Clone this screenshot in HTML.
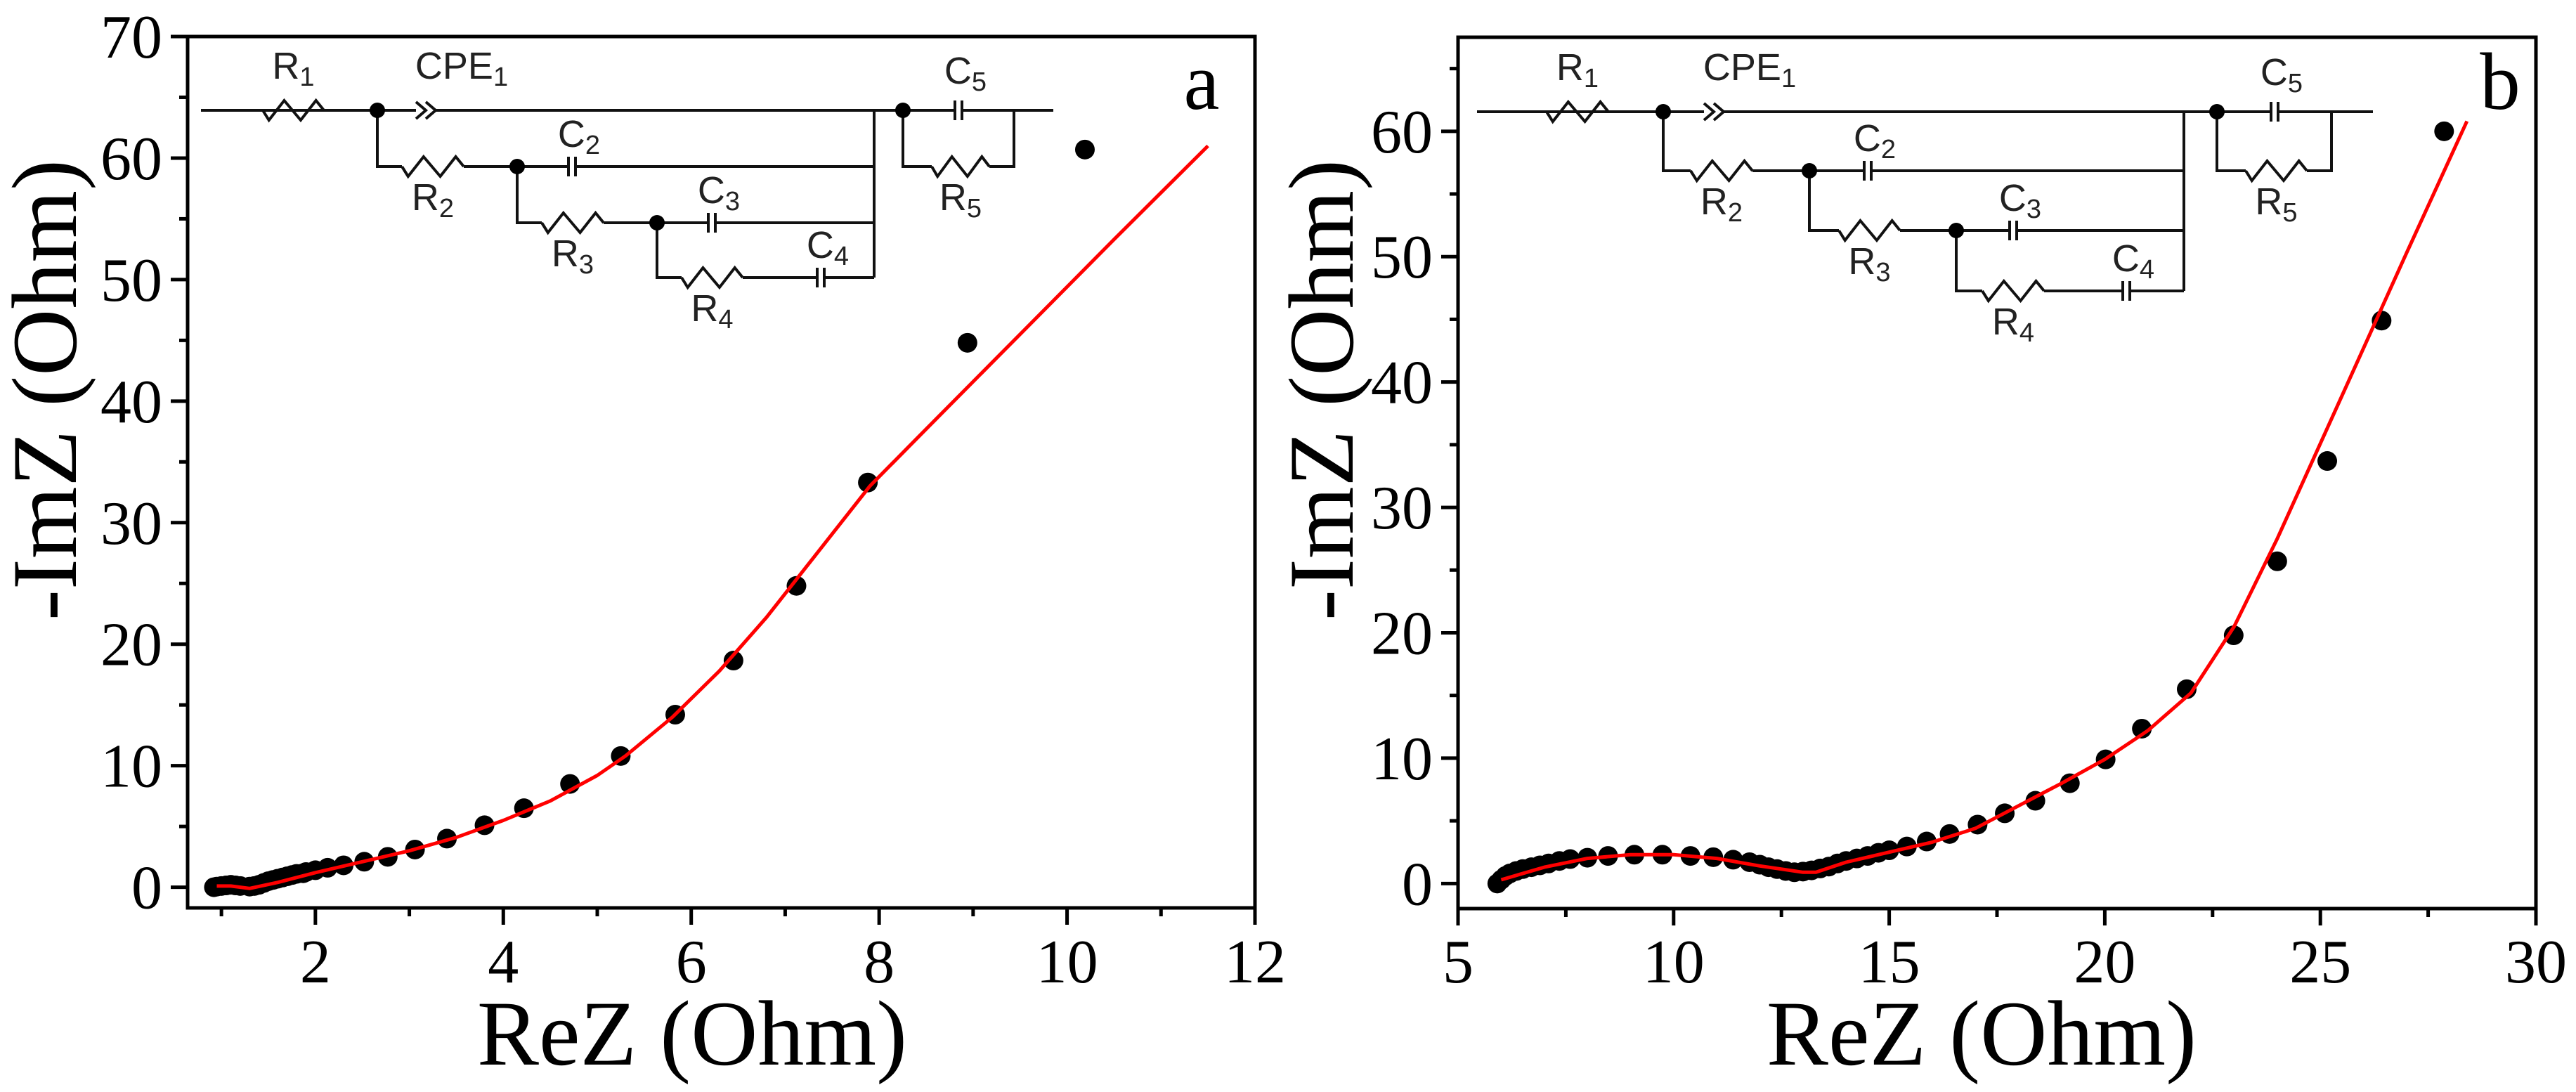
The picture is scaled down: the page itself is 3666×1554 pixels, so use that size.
<!DOCTYPE html>
<html><head><meta charset="utf-8"><style>
html,body{margin:0;padding:0;background:#fff;}
svg{display:block;}
text{font-family:"Liberation Serif",serif;fill:#000;}
.ct{font-family:"Liberation Sans",sans-serif;font-size:54px;fill:#222;}
.sub{font-size:38px;}
</style></head><body>
<svg id="chart" width="3666" height="1554" viewBox="0 0 3666 1554" xmlns="http://www.w3.org/2000/svg">
<rect width="3666" height="1554" fill="#fff"/>
</svg>
<script>
// Panel a data
const aPtsX=[0.92,0.95,1.0,1.05,1.1,1.15,1.2,1.3,1.35,1.4,1.45,1.5,1.55,1.6,1.65,1.7,1.75,1.8,1.87,1.9,2.0,2.13,2.3,2.52,2.77,3.06,3.4,3.8,4.22,4.71,5.25,5.83,6.45,7.12,7.88,8.94,10.19];
const aPtsY=[0.0,0.05,0.1,0.15,0.2,0.15,0.1,0.05,0.1,0.2,0.35,0.5,0.6,0.7,0.8,0.9,1.0,1.1,1.15,1.25,1.4,1.6,1.8,2.1,2.5,3.1,4.0,5.1,6.5,8.5,10.8,14.2,18.65,24.8,33.3,44.8,60.7];
const aFitX=[0.95,1.1,1.3,1.6,2,2.5,3,3.5,4,4.5,5,5.3,5.8,6.3,6.8,7.3,7.9,8.5,9.5,10.5,11.5];
const aFitY=[0.1,0.1,-0.1,0.4,1.2,2.1,3.0,4.1,5.5,7.1,9.2,10.8,14.0,17.8,22.2,27.1,33.0,37.7,45.5,53.3,61.0];
const aXTicks=[2,4,6,8,10,12];
const aYTicks=[0,10,20,30,40,50,60,70];
// Panel b data
const bPtsX=[5.91,6.0,6.1,6.2,6.35,6.5,6.7,6.9,7.1,7.35,7.6,8.0,8.48,9.09,9.74,10.39,10.92,11.38,11.76,12.0,12.2,12.4,12.6,12.8,13.0,13.2,13.4,13.6,13.8,14.0,14.25,14.5,14.75,15.0,15.41,15.87,16.4,17.05,17.68,18.39,19.19,20.02,20.86,21.9,22.99,24.0,25.16,26.42,27.87];
const bPtsY=[0.0,0.3,0.6,0.8,1.0,1.15,1.3,1.45,1.6,1.8,1.95,2.06,2.2,2.3,2.3,2.2,2.1,1.9,1.7,1.5,1.3,1.15,1.0,0.9,0.95,1.05,1.2,1.35,1.6,1.8,2.0,2.2,2.45,2.65,2.95,3.35,3.95,4.7,5.6,6.6,8.0,9.9,12.35,15.5,19.8,25.7,33.7,44.9,60.0];
const bFitX=[6,7,8,9,10,11,12,13,13.3,14,15,16,17,18,19,20,21,22,23,24,25,26,27,28.4];
const bFitY=[0.3,1.3,2.0,2.3,2.3,2.0,1.4,0.9,0.9,1.7,2.5,3.3,4.4,6.2,8.0,9.9,12.2,15.2,20.5,27.5,35.1,42.7,50.3,60.8];
const bXTicks=[5,10,15,20,25,30];
const bYTicks=[0,10,20,30,40,50,60];

const NS="http://www.w3.org/2000/svg";
const svg=document.getElementById('chart');
function mk(tag,attrs,parent){const e=document.createElementNS(NS,tag);for(const k in attrs)e.setAttribute(k,attrs[k]);(parent||svg).appendChild(e);return e;}

function panel(cfg){
  const g=mk('g',{});
  
  
  const sx=v=>cfg.L+(v-cfg.x0)/(cfg.x1-cfg.x0)*(cfg.R-cfg.L);
  const sy=v=>cfg.B-(v-cfg.y0)/(cfg.y1-cfg.y0)*(cfg.B-cfg.T);
  for(let v=cfg.xMinorStart;v<=cfg.x1+1e-9;v+=cfg.xMinor){
    const major=cfg.xTicks.some(t=>Math.abs(t-v)<1e-6);
    const t=mk('line',{x1:sx(v),x2:sx(v),y1:cfg.B,y2:cfg.B+(major?24:12),stroke:'#000','stroke-width':5},g);
    
    
  }
  for(let v=0;v<=cfg.y1+1e-9;v+=cfg.yMinor){
    const major=cfg.yTicks.some(t=>Math.abs(t-v)<1e-6);
    const t=mk('line',{x1:cfg.L,x2:cfg.L-(major?24:12),y1:sy(v),y2:sy(v),stroke:'#000','stroke-width':5},g);
    
    
  }
  cfg.xTicks.forEach(v=>{
    const t=mk('text',{x:sx(v),y:1398,'font-size':88,'text-anchor':'middle'},g);t.textContent=v;
    
    
  });
  cfg.yTicks.forEach(v=>{
    const t=mk('text',{x:cfg.L-36,y:sy(v)+30,'font-size':88,'text-anchor':'end'},g);t.textContent=v;
    
    
  });
  const fr=mk('rect',{x:cfg.L,y:cfg.T,width:cfg.R-cfg.L,height:cfg.B-cfg.T,fill:'none',stroke:'#000','stroke-width':5},g);
  
  
  cfg.px.forEach((x,i)=>{
    const c=mk('circle',{cx:sx(x),cy:sy(cfg.py[i]),r:14,fill:'#000'},g);
    
    
  });
  const d=cfg.fx.map((x,i)=>(i?'L':'M')+sx(x).toFixed(1)+','+sy(cfg.fy[i]).toFixed(1)).join(' ');
  const p=mk('path',{d:d,fill:'none',stroke:'#f00','stroke-width':5,'stroke-linejoin':'round'},g);
  
  
  const xt=mk('text',{x:cfg.xtX,y:1515,'font-size':132,'text-anchor':'middle'},g);xt.textContent='ReZ (Ohm)';
  
  
  const yt=mk('text',{x:0,y:0,'font-size':132,'text-anchor':'middle',transform:'translate('+cfg.ytX+',555) rotate(-90)'},g);yt.textContent='-ImZ (Ohm)';
  
  
  const pl=mk('text',{x:cfg.lblX,y:155,'font-size':115,'text-anchor':'middle'},g);pl.textContent=cfg.label;
  
  
  return g;
}

panel({name:'panel-a',L:267,R:1786,T:52,B:1292,x0:0.64,x1:12,y0:-1.7,y1:70,xTicks:aXTicks,yTicks:aYTicks,xMinor:1,xMinorStart:1,yMinor:5,px:aPtsX,py:aPtsY,fx:aFitX,fy:aFitY,xtX:985,ytX:108,lblX:1710,label:'a'});
panel({name:'panel-b',L:2075,R:3609,T:53,B:1293,x0:5,x1:30,y0:-2.0,y1:67.5,xTicks:bXTicks,yTicks:bYTicks,xMinor:2.5,xMinorStart:5,yMinor:5,px:bPtsX,py:bPtsY,fx:bFitX,fy:bFitY,xtX:2820,ytX:1925,lblX:3558,label:'b'});

function line(g,pts){return mk('polyline',{points:pts.map(p=>p.join(',')).join(' '),fill:'none',stroke:'#111','stroke-width':4},g);}
function res(g,x1,x2,y){const w=x2-x1,a=14;
  line(g,[[x1,y],[x1+0.1*w,y+a],[x1+0.35*w,y-a],[x1+0.62*w,y+a],[x1+0.87*w,y-a],[x2,y]]);}
function cap(g,x,y){mk('rect',{x:x-6,y:y-14,width:12,height:28,fill:'#fff'},g);
  mk('line',{x1:x-5,x2:x-5,y1:y-14,y2:y+14,stroke:'#111','stroke-width':4},g);
  mk('line',{x1:x+5,x2:x+5,y1:y-14,y2:y+14,stroke:'#111','stroke-width':4},g);}
function cpe(g,x,y){mk('rect',{x:x-20,y:y-14,width:28,height:28,fill:'#fff'},g);
  line(g,[[x-20,y-12],[x-6,y],[x-20,y+12]]);line(g,[[x-6,y-12],[x+8,y],[x-6,y+12]]);}
function dot(g,x,y){mk('circle',{cx:x,cy:y,r:11,fill:'#000'},g);}
function lbl(g,x,y,m,s){const t=mk('text',{x:x,y:y,class:'ct','text-anchor':'middle'},g);t.textContent=m;const ts=mk('tspan',{class:'sub',dy:10},t);ts.textContent=s;return t;}

function circuit(name,c){
  const g=mk('g',{});
  
  
  const y0=c.y0,y2=c.y2,y3=c.y3,y4=c.y4,yr5=c.y2;
  line(g,[[c.start,y0],[c.end,y0]]);
  res(g,c.r1[0],c.r1[1],y0);
  cpe(g,c.cpe,y0);
  line(g,[[c.bus,y0],[c.bus,y4]]);
  line(g,[[c.n1,y0],[c.n1,y2],[c.bus,y2]]);
  mk('rect',{x:c.r2[0],y:y2-16,width:c.r2[1]-c.r2[0],height:32,fill:'#fff'},g);
  res(g,c.r2[0],c.r2[1],y2);cap(g,c.c2,y2);
  line(g,[[c.n2,y2],[c.n2,y3],[c.bus,y3]]);
  mk('rect',{x:c.r3[0],y:y3-16,width:c.r3[1]-c.r3[0],height:32,fill:'#fff'},g);
  res(g,c.r3[0],c.r3[1],y3);cap(g,c.c3,y3);
  line(g,[[c.n3,y3],[c.n3,y4],[c.bus,y4]]);
  mk('rect',{x:c.r4[0],y:y4-16,width:c.r4[1]-c.r4[0],height:32,fill:'#fff'},g);
  res(g,c.r4[0],c.r4[1],y4);cap(g,c.c4,y4);
  cap(g,c.c5,y0);
  line(g,[[c.n5,y0],[c.n5,yr5],[c.r5end,yr5],[c.r5end,y0]]);
  mk('rect',{x:c.r5[0],y:yr5-16,width:c.r5[1]-c.r5[0],height:32,fill:'#fff'},g);
  res(g,c.r5[0],c.r5[1],yr5);
  dot(g,c.n1,y0);dot(g,c.n2,y2);dot(g,c.n3,y3);dot(g,c.n5,y0);
  lbl(g,(c.r1[0]+c.r1[1])/2,y0-45,'R','1');
  lbl(g,c.cpe+45,y0-45,'CPE','1');
  lbl(g,(c.r2[0]+c.r2[1])/2,y2+62,'R','2');
  lbl(g,c.c2+10,y2-28,'C','2');
  lbl(g,(c.r3[0]+c.r3[1])/2,y3+62,'R','3');
  lbl(g,c.c3+10,y3-28,'C','3');
  lbl(g,(c.r4[0]+c.r4[1])/2,y4+62,'R','4');
  lbl(g,c.c4+10,y4-28,'C','4');
  lbl(g,c.c5+10,y0-38,'C','5');
  lbl(g,(c.r5[0]+c.r5[1])/2,yr5+62,'R','5');
}
circuit('circuit-a',{start:286,end:1499,y0:157,y2:237,y3:317,y4:395,r1:[374,461],cpe:612,bus:1244,n1:537,r2:[572,660],n2:736,c2:814,r3:[771,859],n3:935,c3:1013,r4:[970,1057],c4:1168,n5:1285,c5:1364,r5:[1326,1408],r5end:1443});
circuit('circuit-b',{start:2102,end:3377,y0:159,y2:243,y3:328,y4:414,r1:[2201,2289],cpe:2445,bus:3108,n1:2367,r2:[2406,2494],n2:2575,c2:2658,r3:[2617,2704],n3:2784,c3:2865,r4:[2821,2909],c4:3026,n5:3155,c5:3237,r5:[3196,3283],r5end:3318});
</script>
</body></html>
